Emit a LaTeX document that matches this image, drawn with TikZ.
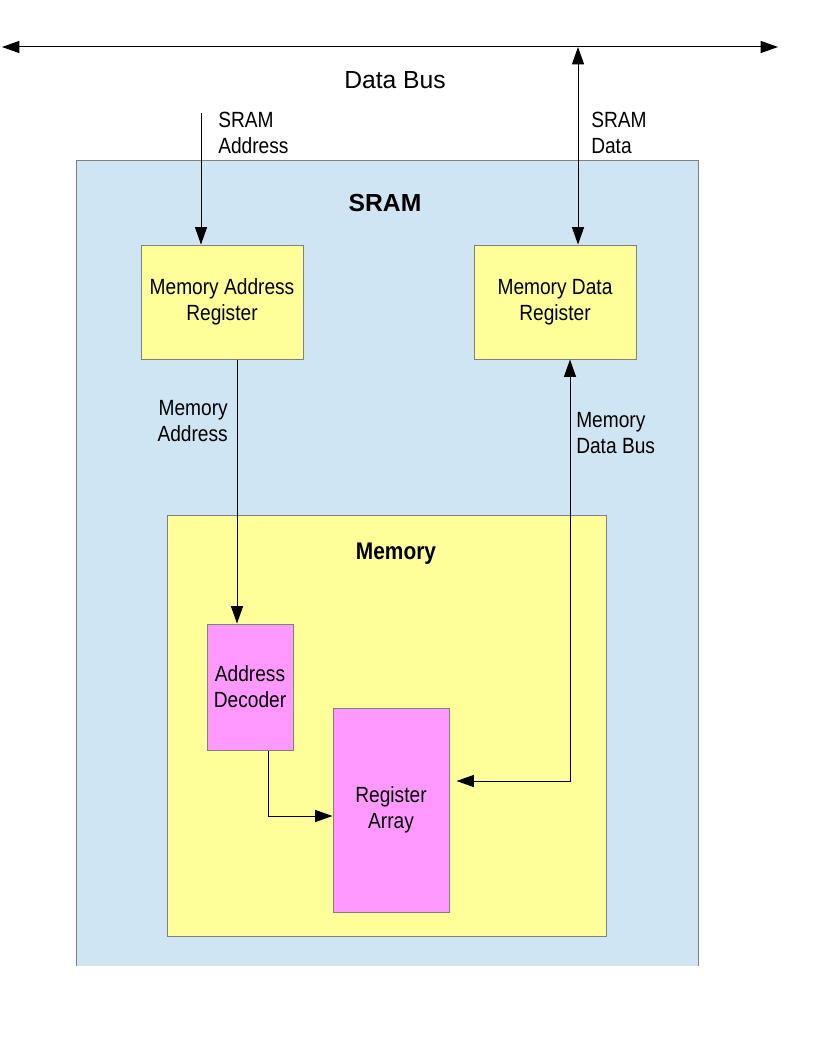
\documentclass[tikz,border=0pt]{standalone}
\usepackage{fontspec}
\setmainfont{Liberation Sans}
\newfontfamily\narrowfont[FakeStretch=0.87]{Liberation Sans}
\usetikzlibrary{arrows.meta}
\definecolor{sramblue}{HTML}{CFE5F3}
\definecolor{memyellow}{HTML}{FFFF99}
\definecolor{regpink}{HTML}{FF99FF}
\definecolor{bordergray}{HTML}{808080}
\begin{document}
\begin{tikzpicture}[x=0.75pt,y=-0.75pt,
  tip/.style={-{Triangle[length=13pt,width=9pt]}},
  dtip/.style={{Triangle[length=13pt,width=9pt]}-{Triangle[length=13pt,width=9pt]}},
  wire/.style={draw=black,line width=0.75pt},
  boxbase/.style={rectangle,draw=bordergray,line width=0.75pt,inner sep=0pt,align=center,
    font=\narrowfont\fontsize{16.5}{19.5}\selectfont},
  yellowbox/.style={boxbase,fill=memyellow},
  pinkbox/.style={boxbase,fill=regpink},
  lbl/.style={inner sep=0pt,font=\narrowfont\fontsize{16.5}{19.5}\selectfont},
  title/.style={inner sep=0pt,font=\bfseries\fontsize{18.5}{22}\selectfont}
]
\useasboundingbox[fill=white] (0,0) rectangle (816,1056);

% SRAM outer box (no bottom border)
\node[rectangle,fill=sramblue,inner sep=0pt,minimum width=465.75pt,minimum height=603.75pt] (sram) at (387.5,563.5) {};
\draw[draw=bordergray,line width=0.75pt] (sram.south west) -- (sram.north west) -- (sram.north east) -- (sram.south east);
\node[title] (sramt) at (385,203) {SRAM};

% Memory box
\node[yellowbox,minimum width=329.25pt,minimum height=315.75pt] (mem) at (386.5,725.5) {};
\node[title,font=\narrowfont\bfseries\fontsize{18}{21}\selectfont] (memt) at (396,554) {Memory};

% Registers
\node[yellowbox,minimum width=121.5pt,minimum height=85.5pt] (mar) at (222,302) {Memory Address\\Register};
\node[yellowbox,minimum width=121.5pt,minimum height=85.5pt] (mdr) at (555,302) {Memory Data\\Register};

% Decoder and array
\node[pinkbox,minimum width=64.5pt,minimum height=94.5pt] (dec) at (250,687) {Address\\Decoder};
\node[pinkbox,minimum width=87pt,minimum height=153pt] (reg) at (391,810) {Register\\Array};

% Data bus
\coordinate (bl) at (2,47);
\coordinate (br) at (778,47);
\draw[wire,dtip] (bl) -- (br);
\node[inner sep=0pt,font=\fontsize{18.5}{22}\selectfont] (dbus) at (395,80) {Data Bus};

% SRAM address
\coordinate (sa) at (201,113);
\draw[wire,tip] (sa) -- (sa |- mar.north);
\node[lbl,anchor=west,align=left] (sal) at (218,133) {SRAM\\Address};

% SRAM data
\coordinate (sd) at (578,47);
\draw[wire,dtip] (sd) -- (sd |- mdr.north);
\node[lbl,anchor=west,align=left] (sdl) at (591,133) {SRAM\\Data};

% Memory address
\coordinate (ma) at ([xshift=11.25pt]mar.south);
\draw[wire,tip] (ma) -- (ma |- dec.north);
\node[lbl,anchor=east,align=right] (mal) at (228,421) {Memory\\Address};

% Decoder to register array
\coordinate (dq) at ([xshift=13.5pt]dec.south);
\coordinate (rq) at ([yshift=-4.5pt]reg.west);
\draw[wire,tip] (dq) |- (rq);

% Memory data bus
\coordinate (mq) at ([xshift=11.25pt]mdr.south);
\coordinate (rr) at ([xshift=5.25pt,yshift=21.75pt]reg.east);
\draw[wire,dtip] (rr) -| (mq);
\node[lbl,anchor=west,align=left] (mdl) at (576,433) {Memory\\Data Bus};
\end{tikzpicture}
\end{document}
